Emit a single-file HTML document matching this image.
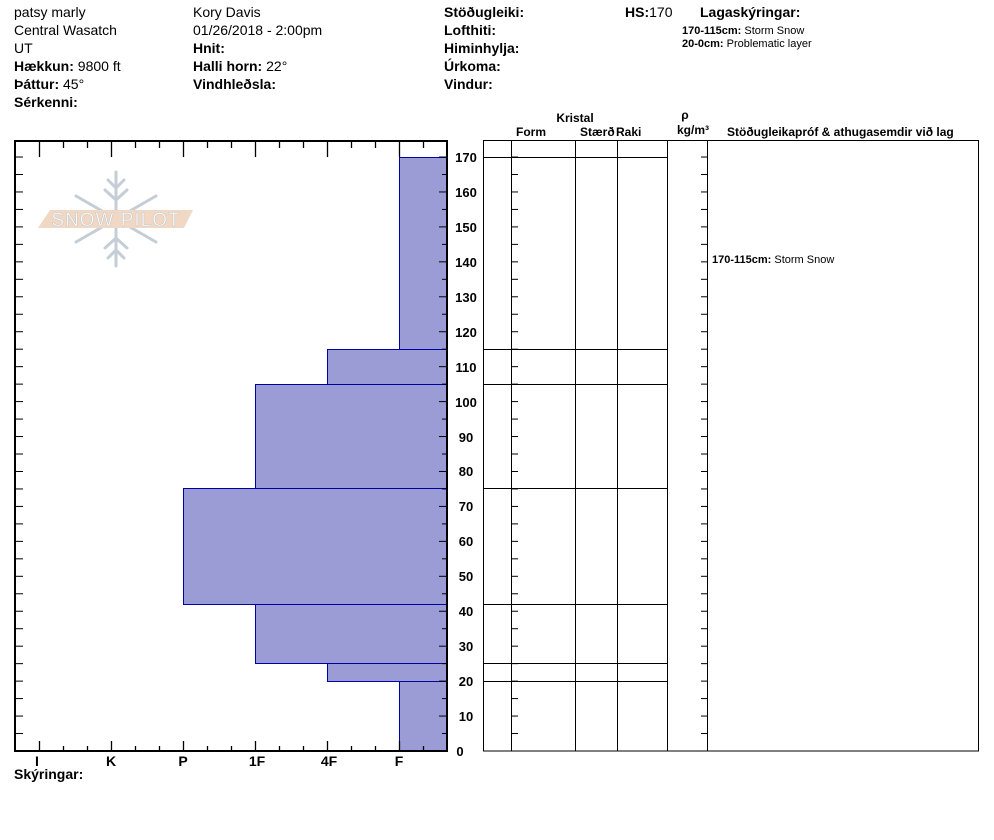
<!DOCTYPE html>
<html><head><meta charset="utf-8"><style>
body{margin:0;background:#fff;}
svg{display:block;font-family:"Liberation Sans",Arial,sans-serif;}
.t{font-size:14px;fill:#000}
.b{font-weight:bold}
.s{font-size:11px}
</style></head><body>
<svg width="994" height="840" viewBox="0 0 994 840" xmlns="http://www.w3.org/2000/svg">
<defs>
<pattern id="lt" patternUnits="userSpaceOnUse" x="0" y="750.5" width="994" height="17.47"><rect x="0" y="0" width="994" height="1" fill="#000"/></pattern>
<pattern id="rt" patternUnits="userSpaceOnUse" x="0" y="750.5" width="994" height="34.94"><rect x="439" y="0" width="8" height="1" fill="#000"/><rect x="442" y="17.47" width="5" height="1" fill="#000"/></pattern>
</defs>
<g class="t">
<text x="14" y="17">patsy marly</text>
<text x="14" y="35">Central Wasatch</text>
<text x="14" y="53">UT</text>
<text x="14" y="71"><tspan class="b">Hækkun:</tspan> 9800 ft</text>
<text x="14" y="89"><tspan class="b">Þáttur:</tspan> 45°</text>
<text x="14" y="107" class="b">Sérkenni:</text>
<text x="193" y="17">Kory Davis</text>
<text x="193" y="35">01/26/2018 - 2:00pm</text>
<text x="193" y="53" class="b">Hnit:</text>
<text x="193" y="71"><tspan class="b">Halli horn:</tspan> 22°</text>
<text x="193" y="89" class="b">Vindhleðsla:</text>
<text x="444" y="17" class="b">Stöðugleiki:</text>
<text x="444" y="35" class="b">Lofthiti:</text>
<text x="444" y="53" class="b">Himinhylja:</text>
<text x="444" y="71" class="b">Úrkoma:</text>
<text x="444" y="89" class="b">Vindur:</text>
<text x="625" y="17"><tspan class="b">HS:</tspan>170</text>
<text x="700" y="17" class="b">Lagaskýringar:</text>
</g>
<text x="682" y="34" class="s" style="font-size:11px"><tspan font-weight="bold">170-115cm:</tspan> Storm Snow</text>
<text x="682" y="47" style="font-size:11px"><tspan font-weight="bold">20-0cm:</tspan> Problematic layer</text>

<!-- logo -->
<g stroke="#c5ced6" stroke-width="3" fill="none" stroke-linecap="round">
<line x1="116" y1="172" x2="116" y2="266"/>
<line x1="76" y1="196" x2="156" y2="242"/>
<line x1="76" y1="242" x2="156" y2="196"/>
<polyline points="108,180 116,188 124,180"/><polyline points="108,258 116,250 124,258"/>
<polyline points="105,190 116,200 127,190"/><polyline points="105,248 116,238 127,248"/>
</g>
<polygon points="50,210 193,210 184,228 38,228" fill="#f0d8c4"/>
<text x="116" y="226" text-anchor="middle" style="font-size:19px;fill:#fff;stroke:#c8c8c8;stroke-width:0.6;letter-spacing:1px">SNOW PILOT</text>

<!-- bars -->
<g fill="#9b9bd6" stroke="#0000a0" stroke-width="1">
<rect x="399.5" y="157.5" width="47.5" height="192"/>
<rect x="327.5" y="349.5" width="119.5" height="35"/>
<rect x="255.5" y="384.5" width="191.5" height="104"/>
<rect x="183.5" y="488.5" width="263.5" height="116"/>
<rect x="255.5" y="604.5" width="191.5" height="59"/>
<rect x="327.5" y="663.5" width="119.5" height="18"/>
<rect x="399.5" y="681.5" width="47.5" height="70"/>
</g>
<!-- left frame -->
<g stroke="#000" stroke-width="2" fill="none">
<line x1="15" y1="141" x2="447" y2="141"/>
<line x1="15" y1="140" x2="15" y2="752"/>
<line x1="447" y1="140" x2="447" y2="752"/>
<line x1="14" y1="751" x2="448" y2="751"/>
</g>
<rect x="15" y="152" width="8" height="600" fill="url(#lt)"/>
<rect x="430" y="152" width="18" height="600" fill="url(#rt)"/>
<g stroke="#000" stroke-width="1.3">
<line x1="39.5" y1="140" x2="39.5" y2="157"/><line x1="111.5" y1="140" x2="111.5" y2="157"/><line x1="183.5" y1="140" x2="183.5" y2="157"/><line x1="255.5" y1="140" x2="255.5" y2="157"/><line x1="327.5" y1="140" x2="327.5" y2="157"/><line x1="399.5" y1="140" x2="399.5" y2="157"/>
<line x1="63.5" y1="140" x2="63.5" y2="148"/><line x1="87.5" y1="140" x2="87.5" y2="148"/><line x1="135.5" y1="140" x2="135.5" y2="148"/><line x1="159.5" y1="140" x2="159.5" y2="148"/><line x1="207.5" y1="140" x2="207.5" y2="148"/><line x1="231.5" y1="140" x2="231.5" y2="148"/><line x1="279.5" y1="140" x2="279.5" y2="148"/><line x1="303.5" y1="140" x2="303.5" y2="148"/><line x1="351.5" y1="140" x2="351.5" y2="148"/><line x1="375.5" y1="140" x2="375.5" y2="148"/><line x1="423.5" y1="140" x2="423.5" y2="148"/>
<line x1="39.5" y1="751" x2="39.5" y2="741"/><line x1="111.5" y1="751" x2="111.5" y2="741"/><line x1="183.5" y1="751" x2="183.5" y2="741"/><line x1="255.5" y1="751" x2="255.5" y2="741"/><line x1="327.5" y1="751" x2="327.5" y2="741"/><line x1="399.5" y1="751" x2="399.5" y2="741"/>
<line x1="63.5" y1="751" x2="63.5" y2="746"/><line x1="87.5" y1="751" x2="87.5" y2="746"/><line x1="135.5" y1="751" x2="135.5" y2="746"/><line x1="159.5" y1="751" x2="159.5" y2="746"/><line x1="207.5" y1="751" x2="207.5" y2="746"/><line x1="231.5" y1="751" x2="231.5" y2="746"/><line x1="279.5" y1="751" x2="279.5" y2="746"/><line x1="303.5" y1="751" x2="303.5" y2="746"/><line x1="351.5" y1="751" x2="351.5" y2="746"/><line x1="375.5" y1="751" x2="375.5" y2="746"/><line x1="423.5" y1="751" x2="423.5" y2="746"/>
</g>
<g class="t b" text-anchor="middle" font-size="13">
<text x="37" y="766">I</text><text x="111" y="766">K</text><text x="183" y="766">P</text><text x="257" y="766">1F</text><text x="329" y="766">4F</text><text x="399" y="766">F</text>
</g>
<text x="14" y="779" class="t b">Skýringar:</text>
<!-- y labels -->
<g class="b" font-size="13" text-anchor="middle">
<text x="466" y="162">170</text><text x="466" y="197">160</text><text x="466" y="232">150</text><text x="466" y="267">140</text><text x="466" y="302">130</text><text x="466" y="337">120</text><text x="466" y="372">110</text><text x="466" y="407">100</text><text x="466" y="442">90</text><text x="466" y="476">80</text><text x="466" y="511">70</text><text x="466" y="546">60</text><text x="466" y="581">50</text><text x="466" y="616">40</text><text x="466" y="651">30</text><text x="466" y="686">20</text><text x="466" y="721">10</text><text x="460" y="756">0</text>
</g>
<!-- table header -->
<g class="b" font-size="12" fill="#000">
<text x="575" y="122" text-anchor="middle">Kristal</text>
<text x="516" y="136">Form</text>
<text x="580" y="136">Stærð</text>
<text x="616" y="136">Raki</text>
<text x="685" y="119" text-anchor="middle">ρ</text>
<text x="693" y="134" text-anchor="middle">kg/m³</text>
<text x="727" y="136">Stöðugleikapróf &amp; athugasemdir við lag</text>
</g>
<!-- table -->
<rect x="483.5" y="140.5" width="495" height="610.5" fill="none" stroke="#000" stroke-width="1"/>
<g stroke="#000" stroke-width="1">
<line x1="511.5" y1="140" x2="511.5" y2="751"/>
<line x1="575.5" y1="140" x2="575.5" y2="751"/>
<line x1="617.5" y1="140" x2="617.5" y2="751"/>
<line x1="667.5" y1="140" x2="667.5" y2="751"/>
<line x1="707.5" y1="140" x2="707.5" y2="751"/>
<line x1="483" y1="157.5" x2="667" y2="157.5"/>
<line x1="483" y1="349.5" x2="667" y2="349.5"/>
<line x1="483" y1="384.5" x2="667" y2="384.5"/>
<line x1="483" y1="488.5" x2="667" y2="488.5"/>
<line x1="483" y1="604.5" x2="667" y2="604.5"/>
<line x1="483" y1="663.5" x2="667" y2="663.5"/>
<line x1="483" y1="681.5" x2="667" y2="681.5"/>
</g>
<rect x="512" y="152" width="6" height="600" fill="url(#lt)"/>
<rect x="701" y="152" width="6" height="600" fill="url(#lt)"/>
<text x="712" y="263" font-size="11"><tspan font-weight="bold">170-115cm:</tspan> Storm Snow</text>
</svg>
</body></html>
